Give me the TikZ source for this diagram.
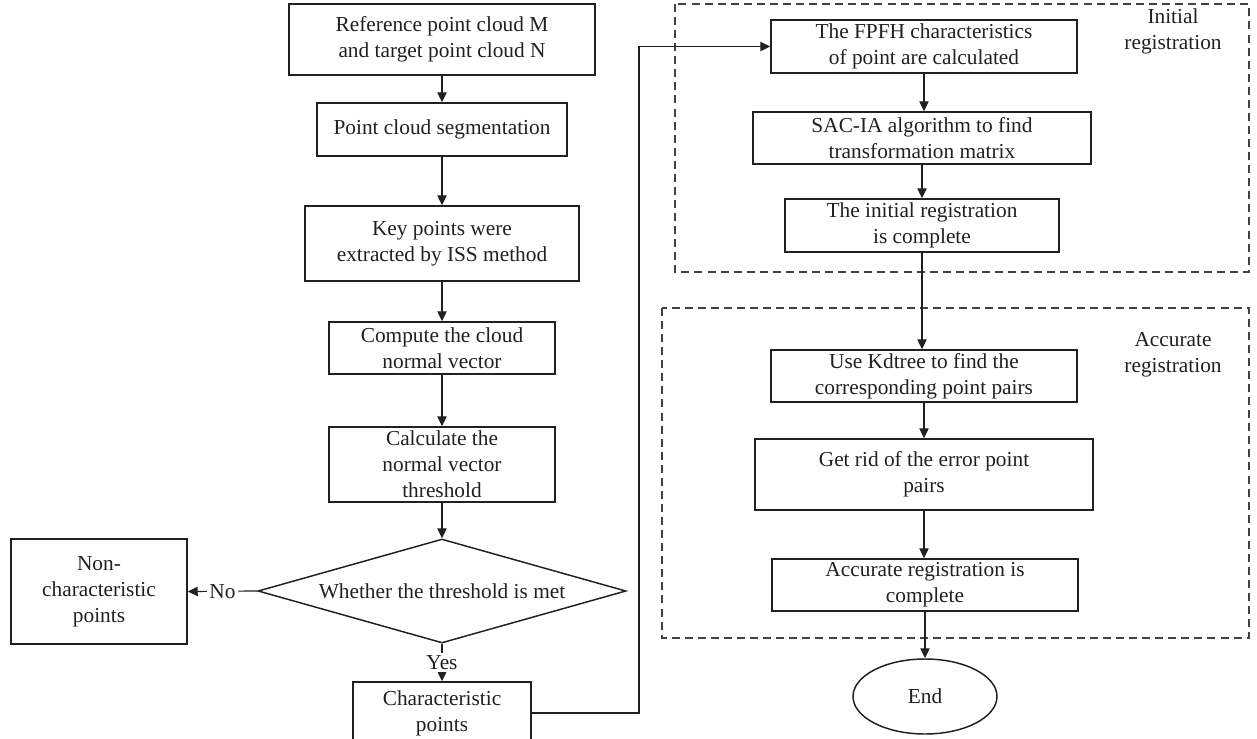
\documentclass[tikz,border=0pt]{standalone}
\usepackage{fontspec}
\setmainfont{Liberation Serif}
\usetikzlibrary{shapes.geometric,arrows.meta}
\definecolor{ink}{RGB}{35,31,32}
\tikzset{
  bx/.style 2 args={draw=ink, rectangle, line width=1.1pt, minimum width=#1*0.75pt, minimum height=#2*0.75pt, inner sep=0pt, align=center, text=ink},
  arr/.style={draw=ink, line width=0.9pt, -{Triangle[length=7.5pt,width=7pt]}},
  grp/.style={draw=ink!85, line width=1pt, dash pattern=on 6pt off 3.8pt},
  lbl/.style={align=center, text=ink, inner sep=0pt}
}
\begin{document}
\begin{tikzpicture}[x=0.75pt,y=-0.75pt,font=\fontsize{16}{19.5}\selectfont]
\useasboundingbox (0,0) rectangle (1257,739);
% left column
\node[bx={306}{71}] (b1) at (442,39.5) {Reference point cloud M\\and target point cloud N};
\node[bx={250}{53}] (b2) at (442,129.5) {Point cloud segmentation};
\node[bx={274}{75}] (b3) at (442,243.5) {Key points were\\extracted by ISS method};
\node[bx={226}{52}] (b4) at (442,348) {Compute the cloud\\normal vector};
\node[bx={226}{75}] (b5) at (442,464.5) {Calculate the\\normal vector\\threshold};
\node[draw=ink, line width=1.1pt, diamond, aspect=3.54, minimum width=368*0.75pt, minimum height=104*0.75pt, inner sep=0pt, text=ink] (dia) at (442,591) {Whether the threshold is met};
\node[bx={176}{105}] (nonc) at (99,591.5) {Non-\\characteristic\\points};
\node[bx={178}{62}] (chr) at (442,713) {Characteristic\\points};
% right column
\draw[grp] (675,4) rectangle (1249,272);
\draw[grp] (662,308) rectangle (1249,638);
\node[lbl] (lini) at (1173,31) {Initial\\registration};
\node[lbl] (lacc) at (1173,355) {Accurate\\registration};
\node[bx={306}{53}] (f1) at (924,46.5) {The FPFH characteristics\\of point are calculated};
\node[bx={338}{52}] (f2) at (922,138) {SAC-IA algorithm to find\\transformation matrix};
\node[bx={274}{53}] (f3) at (922,225.5) {The initial registration\\is complete};
\node[bx={306}{52}] (a1) at (924,376) {Use Kdtree to find the\\corresponding point pairs};
\node[bx={338}{71}] (a2) at (924,474.5) {Get rid of the error point\\pairs};
\node[bx={306}{52}] (a3) at (925,585) {Accurate registration is\\complete};
\node[draw=ink, line width=1.1pt, ellipse, minimum width=144*0.75pt, minimum height=75*0.75pt, inner sep=0pt, text=ink] (end) at (925,696.5) {End};
\coordinate (cx) at (639,0);
% connectors
\draw[arr] (b1) -- (b2);
\draw[arr] (b2) -- (b3);
\draw[arr] (b3) -- (b4);
\draw[arr] (b4) -- (b5);
\draw[arr] (b5) -- (dia);
\draw[arr] (dia.west) -- node[fill=white, inner sep=1.5pt, text=ink] {No} (nonc.east);
\draw[arr] (dia.south) -- node[fill=white, inner sep=1.5pt, text=ink] {Yes} (chr.north);
\draw[arr] (chr.east) -| (cx |- f1.west) -- (f1.west);
\draw[arr] (f1.south) -- (f1.south |- f2.north);
\draw[arr] (f2.south) -- (f2.south |- f3.north);
\draw[arr] (f3.south) -- (f3.south |- a1.north);
\draw[arr] (a1.south) -- (a1.south |- a2.north);
\draw[arr] (a2.south) -- (a2.south |- a3.north);
\draw[arr] (a3.south) -- (a3.south |- end.north);
\end{tikzpicture}
\end{document}
